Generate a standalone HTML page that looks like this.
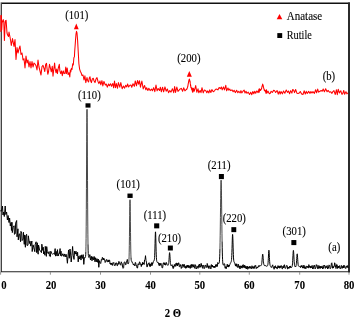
<!DOCTYPE html>
<html><head><meta charset="utf-8"><style>
html,body{margin:0;padding:0;background:#fff;width:357px;height:322px;overflow:hidden}
svg{display:block;will-change:transform}
text{stroke:#000;stroke-width:0.1px}
</style></head><body>
<svg width="357" height="322" viewBox="0 0 357 322"><rect width="357" height="322" fill="#fff"/><path d="M0.6,3.2 H350" fill="none" stroke="#111" stroke-width="1.6"/><path d="M349,2.4 V272.4" fill="none" stroke="#262626" stroke-width="1.95"/><rect x="0" y="3" width="1" height="269" fill="#bbb"/><rect x="1" y="3" width="1" height="269" fill="#444"/><path d="M0.9,271.75 H349.9" fill="none" stroke="#222" stroke-width="1.15"/><path d="M0.90,32.00 0.80,15.50 1.40,15.50 1.70,30.00 2.20,21.00 2.60,22.00 3.20,19.50 3.80,22.00 4.40,40.50 5.30,21.00 6.10,20.30 7.00,33.00 7.60,35.00 8.50,36.50 9.00,32.00 10.00,37.00 10.60,40.50 11.30,45.50 12.50,38.60 14.00,46.50 15.00,39.50 16.00,59.50 17.00,47.60 18.00,53.00 19.00,49.00 20.00,46.00 21.00,54.50 22.00,53.00 22.50,56.00 23.00,60.00 24.00,58.70 25.00,68.00 26.00,56.00 27.00,63.00 28.00,60.00 29.00,67.00 30.00,61.50 31.00,68.00 32.00,61.50 33.00,67.00 34.00,63.00 35.00,64.00 36.00,65.70 37.00,70.00 38.00,60.00 39.00,67.00 40.00,71.00 41.00,75.00 42.00,66.50 43.00,65.30 43.90,68.00 44.80,71.50 45.70,64.30 46.50,63.40 47.10,69.00 47.80,74.30 48.50,71.80 49.50,64.30 50.40,68.00 51.30,71.80 52.30,66.20 53.00,76.20 53.70,70.00 54.60,63.00 55.20,69.00 56.00,72.70 56.70,69.00 57.40,73.60 58.30,68.00 59.30,64.30 59.90,70.90 60.70,73.60 61.60,70.90 62.30,75.70 63.30,70.90 63.90,73.20 64.90,73.60 65.80,67.10 66.40,73.60 67.20,68.00 68.10,74.60 69.00,72.70 69.80,77.00 70.30,70.00 70.80,72.00 71.40,68.40 72.00,69.50 72.70,63.70 73.30,65.00 73.90,57.50 74.40,57.00 74.70,51.30 75.10,46.00 75.50,40.40 76.00,34.00 76.50,31.30 77.00,33.00 77.60,40.40 78.20,51.30 78.90,63.70 79.60,69.10 80.40,71.50 81.20,73.00 82.00,75.50 83.00,75.00 83.50,77.50 84.00,80.00 84.90,75.80 85.80,82.60 87.00,77.60 87.80,81.00 88.60,82.00 89.30,78.00 90.00,76.80 90.70,81.00 91.40,82.60 92.30,79.00 93.30,78.30 94.10,81.00 95.00,82.60 96.00,79.00 97.00,77.60 98.00,81.50 98.90,83.60 100.00,81.00 100.80,84.83 101.95,80.64 102.83,85.93 103.94,81.44 105.34,85.00 106.31,84.09 107.28,87.14 108.56,83.95 109.39,85.75 110.58,83.69 111.49,86.30 112.80,83.48 113.64,87.82 114.51,81.07 115.46,87.74 116.36,83.62 117.50,88.27 118.39,82.54 119.80,87.16 120.81,82.52 122.15,88.73 123.48,85.97 124.61,88.14 125.62,85.35 126.74,86.90 127.59,83.97 128.62,87.02 129.88,85.19 130.91,85.05 131.74,87.20 133.00,83.80 134.31,86.36 135.30,80.95 136.48,85.83 137.51,80.52 138.62,84.22 139.52,80.73 140.47,87.15 141.86,81.00 143.21,88.91 144.56,85.46 145.84,89.78 146.65,87.76 147.87,90.45 148.84,88.34 150.13,90.59 151.47,89.06 152.47,90.79 153.67,87.65 154.82,91.70 155.99,85.00 157.12,90.84 158.14,88.55 159.49,90.56 160.33,87.23 161.35,91.84 162.56,87.21 163.62,91.81 164.97,86.89 166.15,91.18 167.33,89.01 168.57,92.64 169.78,90.50 171.01,92.14 172.39,88.70 173.72,92.69 174.63,86.53 175.53,92.42 176.83,87.02 177.97,91.40 179.34,89.90 180.20,88.96 181.32,88.36 182.58,91.22 183.67,87.81 184.93,90.87 186.36,89.28 186.66,89.55 186.96,88.76 187.08,88.77 187.20,88.11 187.32,87.98 187.44,87.67 187.56,87.08 187.68,86.80 187.80,85.84 187.92,86.18 188.04,84.76 188.16,84.36 188.28,83.35 188.40,83.08 188.52,82.20 188.64,81.79 188.76,80.45 188.88,81.15 189.00,79.85 189.12,79.89 189.24,79.18 189.36,79.89 189.48,79.14 189.60,80.00 189.72,81.11 189.84,80.62 189.96,82.24 190.08,81.39 190.20,82.57 190.32,83.91 190.44,84.19 190.56,85.92 190.68,84.95 190.80,87.19 190.92,86.69 191.04,87.68 191.16,87.73 191.28,88.21 191.40,87.53 191.52,89.14 191.64,88.05 191.76,89.85 191.88,88.70 192.18,88.86 192.48,92.26 192.78,87.97 193.08,91.87 193.38,88.37 194.28,91.18 195.70,85.52 196.79,92.21 198.01,88.85 198.82,92.84 200.10,90.48 201.01,92.65 202.00,87.71 203.24,92.86 204.38,89.96 205.78,90.65 206.80,92.80 207.63,90.90 208.91,92.86 209.71,89.89 210.87,92.52 211.87,89.61 213.26,91.71 214.49,90.82 215.59,89.22 216.86,89.11 217.88,89.89 219.12,87.43 220.33,88.69 221.36,86.99 222.21,89.84 223.46,86.90 224.50,89.85 225.78,85.32 226.65,90.84 227.95,88.03 228.89,90.26 229.75,88.95 230.57,90.63 231.95,89.87 233.15,91.79 234.12,90.27 235.31,92.63 236.62,90.22 237.82,92.80 238.79,91.23 240.14,92.96 240.95,90.64 241.80,92.90 243.04,91.22 244.14,90.09 245.02,93.00 246.01,91.30 246.91,93.30 248.22,92.17 249.55,94.47 250.71,92.23 251.80,94.68 252.85,91.54 253.82,93.80 254.79,91.30 255.70,93.17 256.84,90.88 258.11,92.62 258.97,89.09 259.27,92.28 259.57,88.74 259.87,90.48 260.17,90.12 260.47,90.53 260.59,89.47 260.71,90.07 260.83,89.72 260.95,89.77 261.07,89.38 261.19,89.36 261.31,89.34 261.43,88.56 261.55,88.37 261.67,88.31 261.79,87.40 261.91,87.10 262.03,86.10 262.15,86.20 262.27,86.00 262.39,85.04 262.51,85.28 262.63,84.14 262.75,84.88 262.87,84.57 262.99,85.00 263.11,85.49 263.23,85.66 263.35,86.98 263.47,86.75 263.59,87.91 263.71,88.11 263.83,88.74 263.95,88.68 264.07,89.51 264.19,89.61 264.31,90.33 264.43,89.99 264.55,90.65 264.67,89.96 264.79,90.93 264.91,90.13 265.03,91.29 265.15,90.84 265.27,91.35 265.57,90.72 265.87,93.17 266.17,93.10 266.47,89.66 266.77,93.14 268.04,91.14 269.34,93.68 270.29,93.26 271.11,91.31 272.35,92.43 273.61,90.38 274.45,90.51 275.65,92.52 277.05,90.46 278.25,94.17 279.22,91.31 280.19,93.95 281.06,91.49 282.38,93.83 283.53,90.99 284.84,93.32 286.26,89.92 287.45,92.36 288.47,91.02 289.64,93.69 290.69,90.65 291.90,93.13 292.73,89.43 293.60,90.11 294.53,92.60 295.61,89.51 297.02,93.33 298.03,93.54 299.26,92.94 300.28,91.47 301.61,94.04 302.96,94.52 304.23,90.79 305.27,93.98 306.28,91.36 307.27,93.44 308.63,91.37 310.05,93.35 310.92,91.52 311.90,93.07 312.99,91.60 314.38,93.40 315.63,89.70 316.55,92.82 317.70,89.03 318.55,92.14 319.94,91.26 321.21,90.48 322.22,91.29 323.21,89.01 324.39,91.83 325.66,88.81 327.07,91.80 328.10,90.37 329.48,92.23 330.79,91.73 331.95,93.39 332.81,91.66 333.93,90.63 335.27,94.50 336.42,89.74 337.31,94.72 338.20,89.28 339.39,92.88 340.77,90.72 341.80,94.12 342.58,94.02 343.75,90.43 344.66,94.33 345.97,91.63 346.91,93.89 347.93,92.73" fill="none" stroke="#ff0000" stroke-width="1.05" stroke-linejoin="round"/><path d="M0.30,210.80 1.60,211.00 2.50,206.00 3.00,215.00 3.50,212.00 4.30,216.50 5.20,206.00 5.80,214.50 6.60,212.00 7.40,220.00 8.10,215.50 9.00,222.50 9.60,218.00 10.30,225.95 11.11,222.49 11.46,230.46 11.97,222.27 12.32,232.57 13.08,227.50 14.10,225.74 14.45,234.32 15.28,233.65 15.63,223.10 16.67,220.50 17.02,236.80 17.95,228.80 18.30,239.90 18.99,234.39 19.57,233.86 20.56,241.69 20.91,231.35 21.71,232.90 22.06,240.58 23.08,239.09 23.43,232.26 24.27,244.33 24.62,234.94 25.39,247.28 25.74,235.87 26.63,234.28 26.98,245.43 27.97,245.20 28.32,235.80 29.44,243.47 30.01,241.14 30.75,246.14 31.85,241.04 32.20,251.54 33.08,244.88 33.77,247.70 34.78,251.65 35.13,244.70 36.14,241.77 36.49,252.50 37.32,242.77 37.67,252.15 38.19,254.19 38.54,245.00 39.59,249.96 40.49,251.12 41.48,252.67 41.83,244.20 42.75,250.43 43.26,247.23 43.61,254.01 44.23,251.59 44.93,255.25 45.28,246.37 46.36,256.37 46.71,246.60 47.34,251.74 48.28,253.74 49.08,251.55 49.43,255.95 50.44,256.59 50.79,251.21 51.74,253.38 52.54,254.27 53.37,253.49 54.48,254.37 55.15,248.61 55.50,256.14 56.14,251.30 57.06,256.07 57.41,249.62 58.21,256.04 58.87,253.35 59.48,253.55 60.08,248.59 60.43,255.57 61.02,251.16 61.37,256.05 62.00,255.71 62.80,253.73 63.60,256.32 64.40,253.95 65.20,257.01 66.00,254.18 66.80,257.39 67.40,263.27 68.00,256.18 68.60,249.95 69.30,258.25 70.00,249.00 70.60,253.99 71.20,262.01 71.90,255.26 72.60,246.48 73.20,255.17 74.00,259.42 74.60,251.11 75.30,254.10 76.00,251.19 76.35,254.06 76.70,253.25 77.00,255.99 77.60,252.29 78.20,261.89 78.80,256.15 79.50,259.06 80.20,255.47 81.00,260.09 81.70,254.84 82.50,258.40 83.20,254.62 83.80,264.36 84.40,257.55 84.52,257.73 84.64,257.72 84.76,257.89 84.88,257.97 85.00,257.84 85.12,257.81 85.24,257.50 85.36,257.36 85.48,256.93 85.60,256.25 85.72,254.71 85.84,251.83 M88.00,244.22 88.12,250.16 88.24,253.62 88.36,255.50 88.48,256.46 88.60,256.97 88.72,257.29 88.84,257.46 88.96,257.30 89.08,257.42 89.20,256.96 89.32,256.59 89.44,256.48 89.56,256.24 89.80,254.61 90.50,260.02 91.30,256.23 92.00,260.81 92.80,256.73 93.50,259.82 94.20,256.51 95.00,261.81 95.60,257.74 96.30,261.87 97.00,258.65 97.60,262.31 98.30,259.04 98.80,267.29 99.40,260.63 100.00,262.73 100.70,263.51 101.40,259.54 101.89,260.10 102.38,257.37 102.80,258.77 103.29,260.01 103.78,257.98 104.20,259.99 104.69,259.58 105.18,262.48 105.60,261.83 106.30,259.73 106.79,259.48 107.28,261.96 107.70,261.75 108.19,259.88 108.68,261.95 109.10,260.32 109.59,260.02 110.08,263.88 110.50,263.00 110.99,264.82 111.48,262.97 111.90,264.63 112.39,265.43 112.88,262.73 113.30,263.23 113.79,262.44 114.28,265.59 114.70,265.45 115.19,265.59 115.68,263.05 116.10,263.11 116.59,262.89 117.08,265.74 117.50,265.68 117.99,263.28 118.48,264.25 118.90,261.36 119.39,263.25 119.88,262.84 120.30,264.74 120.79,265.24 121.28,261.82 121.70,262.86 122.19,263.75 122.68,267.39 123.10,268.34 123.59,267.78 124.08,262.68 124.50,261.90 124.99,262.18 125.48,264.65 125.90,264.81 126.39,261.65 126.88,262.04 127.30,259.42 127.40,261.15 127.52,261.72 127.64,262.05 127.76,262.86 127.88,263.55 128.00,264.01 128.12,264.00 128.24,263.67 128.36,263.63 128.48,263.15 128.60,262.98 128.72,262.46 128.84,261.51 M131.00,257.39 131.12,259.25 131.24,260.21 131.36,260.66 131.48,260.83 131.60,261.28 131.72,261.23 131.84,261.51 131.96,261.99 132.08,261.97 132.20,262.38 132.32,262.26 132.44,262.80 132.56,262.74 132.90,263.52 133.39,264.94 133.88,263.96 134.30,265.36 134.79,265.97 135.28,262.35 135.70,262.71 136.19,266.02 136.68,265.59 137.10,268.09 137.59,267.95 138.08,263.64 138.50,264.01 138.99,264.85 139.48,261.83 139.90,262.14 140.39,264.39 140.88,264.26 141.30,266.57 141.79,263.87 142.28,265.09 142.70,262.24 143.19,264.06 143.68,262.92 144.10,264.56 144.59,259.81 145.08,259.37 145.50,255.68 145.99,260.61 146.48,262.11 146.90,266.92 147.39,266.71 147.88,263.91 148.30,264.17 149.10,262.70 149.45,265.69 149.80,264.15 150.10,266.81 150.45,264.37 150.80,266.02 151.10,263.69 151.48,262.67 151.87,265.72 152.20,265.36 152.59,262.98 152.90,262.66 152.97,263.33 153.02,262.49 153.14,262.19 153.26,261.77 153.38,261.50 153.50,261.48 153.62,261.42 153.74,261.13 153.86,260.83 153.98,260.95 154.10,260.58 154.22,260.24 154.34,259.71 154.46,258.83 154.58,257.42 154.70,255.23 154.82,252.12 154.94,248.08 155.06,243.39 155.18,238.63 155.30,234.62 155.42,232.17 155.54,231.84 155.66,233.71 155.78,237.37 155.90,242.07 156.02,246.95 156.14,251.34 156.26,254.86 156.38,257.43 156.50,259.17 156.62,260.29 156.74,261.01 156.86,261.48 156.98,261.83 157.10,262.02 157.22,262.14 157.34,262.37 157.46,262.21 157.58,262.37 157.70,262.47 157.82,262.62 157.94,262.30 158.06,262.29 159.20,265.62 159.59,263.29 159.97,265.58 160.30,263.47 160.65,264.90 161.00,263.39 161.30,264.56 161.69,264.94 162.07,267.90 162.40,267.99 162.75,267.26 163.10,263.46 163.40,263.76 163.78,262.61 164.17,264.33 164.50,262.87 164.85,264.96 165.20,263.52 165.50,265.10 165.85,265.15 166.20,262.36 166.50,262.95 167.00,264.18 167.12,264.41 167.24,264.60 167.36,264.77 167.48,265.03 167.60,265.24 167.72,265.34 167.84,265.39 167.96,265.25 168.08,265.12 168.20,265.17 168.32,265.02 168.44,264.74 168.56,264.29 168.68,263.57 168.80,262.51 168.92,261.07 169.04,259.29 169.16,257.29 169.28,255.32 169.40,253.70 169.52,252.73 169.64,252.60 169.76,253.36 169.88,254.85 170.00,256.78 170.12,258.85 170.24,260.77 170.36,262.39 170.48,263.62 170.60,264.50 170.72,265.08 170.84,265.45 170.96,265.69 171.08,265.85 171.20,265.90 171.32,265.76 171.44,265.41 171.56,265.47 171.68,265.21 171.80,265.09 171.92,264.86 172.04,264.65 172.16,265.07 173.20,268.58 173.59,266.21 173.97,267.20 174.30,264.70 174.65,265.86 175.00,264.40 175.30,265.70 175.65,266.36 176.00,263.00 176.30,262.98 176.69,265.29 177.07,263.43 177.40,266.00 177.78,263.51 178.17,264.55 178.50,262.86 178.85,262.83 179.20,266.38 179.50,266.71 179.85,267.10 180.20,264.53 180.50,265.74 180.88,264.87 181.27,268.47 181.60,267.56 181.98,267.97 182.37,264.47 182.70,264.48 183.05,266.22 183.40,264.62 183.70,266.37 184.05,267.35 184.40,264.44 184.70,265.46 185.09,267.81 185.47,266.48 185.80,268.40 186.19,266.35 186.57,267.74 186.90,265.33 187.25,267.23 187.60,265.28 187.90,267.22 188.25,265.61 188.60,267.57 188.90,265.33 189.28,267.42 189.67,266.24 190.00,268.41 190.38,268.22 190.77,264.85 191.10,265.47 191.45,264.46 191.80,267.70 192.10,266.38 192.45,264.73 192.80,266.39 193.10,264.49 193.48,266.96 193.87,265.47 194.20,267.43 194.59,268.27 194.97,264.57 195.30,265.33 195.65,265.08 196.00,268.81 196.30,268.20 196.65,268.79 197.00,266.13 197.30,266.30 198.10,268.33 198.45,265.48 198.80,267.04 199.10,264.48 199.48,264.01 199.87,267.48 200.20,266.51 200.59,267.05 200.97,263.39 201.30,263.57 201.65,266.25 202.00,265.17 202.30,267.49 202.65,268.33 203.00,265.24 203.30,265.46 203.69,265.36 204.07,268.68 204.40,268.32 204.78,268.11 205.17,265.06 205.50,265.38 205.85,265.18 206.20,267.39 206.50,267.26 206.85,267.36 207.20,263.48 207.50,264.25 207.88,267.33 208.27,265.81 208.60,268.23 208.98,268.65 209.37,265.96 209.70,266.26 210.05,265.69 210.40,268.55 210.70,268.14 211.05,268.65 211.40,264.57 211.70,265.12 212.09,266.92 212.47,265.10 212.80,267.13 213.19,266.07 213.57,267.37 213.90,266.26 214.25,267.79 214.60,266.17 214.90,267.20 215.25,267.45 215.60,264.82 215.90,265.32 216.28,264.37 216.67,266.73 217.00,266.31 217.38,266.35 217.77,262.53 218.10,263.12 218.50,263.79 218.62,263.78 218.74,263.55 218.86,263.51 218.98,263.27 219.10,263.19 219.22,262.86 219.34,262.14 219.46,261.11 219.58,259.18 219.70,256.83 219.82,253.39 219.94,248.76 M222.10,241.28 222.22,247.80 222.34,252.96 222.46,256.87 222.58,259.72 222.70,261.79 222.82,262.95 222.94,264.12 223.06,264.50 223.18,264.81 223.30,265.05 223.42,265.19 223.54,265.20 223.66,264.96 224.30,263.60 224.69,264.12 225.07,268.31 225.40,268.05 225.78,266.59 226.17,268.74 226.50,266.97 226.85,267.04 227.20,264.17 227.50,264.76 227.85,266.95 228.20,264.90 228.50,267.10 228.88,265.19 229.27,266.34 229.60,264.83 230.00,264.25 230.12,263.79 230.24,263.79 230.36,263.22 230.48,263.05 230.60,262.74 230.72,262.59 230.84,262.40 230.96,262.23 231.08,262.18 231.20,261.73 231.32,261.26 231.44,260.56 231.56,259.46 231.68,257.82 231.80,255.47 231.92,252.34 232.04,248.51 232.16,244.26 232.28,240.12 232.40,236.72 232.52,234.66 232.64,234.36 232.76,235.86 232.88,238.88 233.00,242.85 233.12,247.12 233.24,251.14 233.36,254.53 233.48,257.14 233.60,259.00 233.72,260.26 233.84,261.08 233.96,261.61 234.08,261.97 234.20,262.15 234.32,262.54 234.44,262.47 234.56,262.87 234.68,263.36 234.80,263.63 234.92,263.80 235.04,264.46 235.16,264.73 235.50,265.88 235.88,263.74 236.27,266.36 236.60,264.14 236.98,263.83 237.37,267.30 237.70,267.12 238.05,267.40 238.40,264.30 238.70,265.11 239.05,267.52 239.40,265.97 239.70,268.04 240.09,269.03 240.47,265.84 240.80,266.12 241.19,267.66 241.57,265.87 241.90,268.10 242.25,268.04 242.60,265.09 242.90,265.02 243.25,264.66 243.60,267.28 243.90,267.09 244.28,267.83 244.67,265.13 245.00,266.12 245.40,268.22 245.89,266.16 246.38,268.90 246.80,266.89 247.29,266.03 247.78,269.32 248.20,268.70 248.69,266.79 249.18,268.13 249.60,266.34 250.09,268.43 250.58,266.60 251.00,268.04 251.49,268.75 251.98,265.74 252.40,266.77 252.89,268.41 253.38,266.59 253.80,268.44 254.29,268.41 254.78,265.71 255.20,266.37 255.69,265.39 256.18,268.64 256.60,268.03 257.09,267.01 257.58,268.09 258.00,267.10 258.49,265.67 258.98,266.81 259.40,265.61 260.10,265.83 260.22,265.72 260.34,265.80 260.46,265.71 260.58,265.57 260.70,265.55 260.82,265.48 260.94,265.49 261.06,265.46 261.18,265.52 261.30,265.32 261.42,265.08 261.54,264.70 261.66,264.14 261.78,263.33 261.90,262.25 262.02,260.90 262.14,259.35 262.26,257.71 262.38,256.18 262.50,254.96 262.62,254.24 262.74,254.12 262.86,254.64 262.98,255.70 263.10,257.13 263.22,258.74 263.34,260.33 263.46,261.74 263.58,262.90 263.70,263.78 263.82,264.41 263.94,264.83 264.06,265.09 264.18,265.25 264.30,265.17 264.42,265.55 264.54,265.35 264.66,265.48 264.78,265.49 264.90,265.64 265.02,265.54 265.14,265.76 265.26,265.53 266.30,266.24 266.42,266.25 266.54,266.20 266.66,266.21 266.78,266.15 266.90,266.03 267.02,266.11 267.14,265.84 267.26,265.95 267.38,265.86 267.50,265.76 267.62,265.56 267.74,265.23 267.86,264.67 267.98,263.79 268.10,262.49 268.22,260.72 268.34,258.52 268.46,256.06 268.58,253.64 268.70,251.64 268.82,250.42 268.94,250.21 269.06,251.07 269.18,252.80 269.30,255.08 269.42,257.52 269.54,259.78 269.66,261.66 269.78,263.07 269.90,264.03 270.02,264.85 270.14,265.40 270.26,265.80 270.38,266.10 270.50,266.24 270.62,266.49 270.74,266.81 270.86,266.93 270.98,267.09 271.10,267.19 271.22,267.58 271.34,267.46 271.46,267.45 272.70,264.82 273.19,267.44 273.68,266.91 274.10,269.27 274.59,266.44 275.08,267.83 275.50,265.71 275.99,268.05 276.48,267.17 276.90,268.77 277.39,268.75 277.88,265.64 278.30,265.84 278.79,267.92 279.28,266.20 279.70,268.24 280.19,265.74 280.68,267.60 281.10,265.84 281.59,265.76 282.08,268.84 282.50,268.84 282.99,266.16 283.48,268.00 283.90,265.30 284.39,264.73 284.88,268.20 285.30,268.29 285.79,268.31 286.28,265.46 286.70,265.81 287.19,265.68 287.68,269.01 288.10,268.66 288.59,267.07 289.08,268.37 289.50,266.28 289.99,267.76 290.48,265.94 290.80,267.57 290.92,267.59 291.04,267.37 291.16,267.41 291.28,267.60 291.40,267.21 291.52,267.39 291.64,267.22 291.76,267.19 291.88,266.95 292.00,266.77 292.12,266.41 292.24,265.85 292.36,265.02 292.48,263.84 292.60,262.26 292.72,260.29 292.84,258.02 292.96,255.64 293.08,253.41 293.20,251.63 293.32,250.56 293.44,250.38 293.56,251.12 293.68,252.64 293.80,254.71 293.92,257.03 294.04,259.31 294.16,261.35 294.28,263.01 294.40,264.28 294.52,265.17 294.60,265.69 294.64,265.75 294.72,266.09 294.76,266.12 294.84,266.24 294.88,266.33 294.96,266.27 295.00,266.39 295.08,266.57 295.12,266.67 295.20,266.56 295.24,266.49 295.32,266.69 295.36,266.40 295.44,266.41 295.48,266.48 295.56,266.59 295.60,266.59 295.68,266.27 295.72,266.50 295.80,266.27 295.84,266.30 295.92,266.10 295.96,266.18 296.04,265.82 296.16,265.35 296.28,264.63 296.40,263.58 296.52,262.15 296.64,260.40 296.76,258.45 296.88,256.53 297.00,254.95 297.12,253.99 297.24,253.84 297.36,254.52 297.48,255.90 297.60,257.72 297.72,259.66 297.84,261.48 297.96,263.00 298.08,264.16 298.20,264.97 298.32,265.49 298.44,265.81 298.56,266.00 298.68,266.11 298.80,266.27 298.92,266.07 299.04,266.12 299.16,266.17 299.28,266.31 299.40,266.50 299.52,266.59 299.64,266.69 299.76,266.78 300.50,267.60 300.92,265.77 301.34,267.10 301.70,265.48 302.15,265.43 302.61,268.01 303.00,268.08 303.42,268.03 303.84,265.08 304.20,265.94 304.65,268.46 305.11,266.73 305.50,268.34 305.92,268.90 306.34,265.91 306.70,266.28 307.15,267.59 307.61,266.26 308.00,267.79 308.42,267.91 308.84,264.61 309.20,265.55 309.65,267.40 310.11,265.96 310.50,268.10 310.92,266.42 311.34,267.77 311.70,266.11 312.15,265.40 312.61,268.98 313.00,268.35 313.42,268.54 313.84,265.55 314.20,266.43 314.65,265.31 315.11,268.86 315.50,267.79 315.92,267.82 316.34,264.63 316.70,265.55 317.15,265.18 317.61,268.72 318.00,268.11 318.42,268.44 318.84,265.44 319.20,266.11 319.65,268.30 320.11,266.04 320.50,268.34 320.92,266.59 321.34,268.04 321.70,266.40 322.15,265.85 322.61,268.95 323.00,267.90 323.42,268.31 323.84,265.23 324.20,265.81 324.65,265.10 325.11,268.36 325.50,268.26 325.92,266.21 326.34,267.64 326.70,266.18 327.15,265.51 327.61,268.99 328.00,267.82 328.42,268.23 328.84,265.20 329.20,265.52 329.65,265.23 330.11,268.74 330.50,268.41 330.95,267.64 331.41,263.43 331.80,262.81 332.60,268.25 333.02,266.41 333.44,268.05 333.80,266.30 334.22,266.31 334.64,262.79 335.00,263.65 335.35,266.94 335.70,265.82 336.00,268.59 336.70,264.39 337.15,264.78 337.61,268.52 338.00,267.95 338.42,266.00 338.84,267.98 339.20,265.99 339.65,265.65 340.11,268.91 340.50,268.27 340.92,268.24 341.34,265.43 341.70,266.18 342.15,268.41 342.61,266.48 343.00,267.97 343.42,265.44 343.84,267.88 344.20,265.57 344.65,265.63 345.11,268.23 345.50,268.16 345.92,268.50 346.34,265.94 346.70,266.13 347.15,267.36 347.61,265.57 348.00,267.66 348.60,267.01" fill="none" stroke="#000" stroke-width="1.0" stroke-linejoin="miter" stroke-miterlimit="3"/><path d="M85.84,251.83 85.96,246.80 86.08,238.61 86.20,226.35 86.32,209.51 86.44,188.49 86.56,164.96 86.68,141.79 86.80,122.66 86.92,111.07 87.04,109.32 87.16,117.77 87.28,134.71 87.40,156.92 87.52,180.68 87.64,202.75 87.76,221.06 87.88,234.80 88.00,244.22 M128.84,261.51 128.96,259.80 129.08,256.88 129.20,252.23 129.32,245.45 129.44,236.53 129.56,226.07 129.68,215.38 129.80,206.30 129.92,200.66 130.04,199.73 130.16,203.70 130.28,211.63 130.40,221.80 130.52,232.33 130.64,241.67 130.76,249.00 130.88,254.14 131.00,257.39 M219.94,248.76 220.06,242.79 220.18,235.46 220.30,226.91 220.42,217.49 220.54,207.74 220.66,198.39 220.78,190.25 220.90,184.11 221.02,180.61 221.14,180.13 221.26,182.75 221.38,188.16 221.50,195.81 221.62,204.95 221.74,214.74 221.86,224.44 221.98,233.42 222.10,241.28" fill="none" stroke="#333" stroke-width="0.9" stroke-linejoin="round"/><path d="M0.6,272 V274.7" stroke="#888" stroke-width="0.9"/><path d="M50.4,272 V274.7" stroke="#888" stroke-width="0.9"/><path d="M100.5,272 V274.7" stroke="#888" stroke-width="0.9"/><path d="M150.5,272 V274.7" stroke="#888" stroke-width="0.9"/><path d="M199.8,272 V274.7" stroke="#888" stroke-width="0.9"/><path d="M249.3,272 V274.7" stroke="#888" stroke-width="0.9"/><path d="M299.7,272 V274.7" stroke="#888" stroke-width="0.9"/><path d="M349,272 V274.7" stroke="#888" stroke-width="0.9"/><text transform="translate(3.9,288.7) scale(0.95,1.05)" x="0" y="0" text-anchor="middle" style="font-family:'Liberation Serif',serif;font-weight:bold;font-size:11.3px;stroke-width:0.05px">0</text><text transform="translate(51.0,288.7) scale(0.95,1.05)" x="0" y="0" text-anchor="middle" style="font-family:'Liberation Serif',serif;font-weight:bold;font-size:11.3px;stroke-width:0.05px">20</text><text transform="translate(100.5,288.7) scale(0.95,1.05)" x="0" y="0" text-anchor="middle" style="font-family:'Liberation Serif',serif;font-weight:bold;font-size:11.3px;stroke-width:0.05px">30</text><text transform="translate(150.5,288.7) scale(0.95,1.05)" x="0" y="0" text-anchor="middle" style="font-family:'Liberation Serif',serif;font-weight:bold;font-size:11.3px;stroke-width:0.05px">40</text><text transform="translate(199.8,288.7) scale(0.95,1.05)" x="0" y="0" text-anchor="middle" style="font-family:'Liberation Serif',serif;font-weight:bold;font-size:11.3px;stroke-width:0.05px">50</text><text transform="translate(249.3,288.7) scale(0.95,1.05)" x="0" y="0" text-anchor="middle" style="font-family:'Liberation Serif',serif;font-weight:bold;font-size:11.3px;stroke-width:0.05px">60</text><text transform="translate(299.7,288.7) scale(0.95,1.05)" x="0" y="0" text-anchor="middle" style="font-family:'Liberation Serif',serif;font-weight:bold;font-size:11.3px;stroke-width:0.05px">70</text><text transform="translate(349.0,288.7) scale(0.95,1.05)" x="0" y="0" text-anchor="middle" style="font-family:'Liberation Serif',serif;font-weight:bold;font-size:11.3px;stroke-width:0.05px">80</text><text transform="translate(173.0,316.7) scale(0.95,1.05)" x="0" y="0" text-anchor="middle" style="font-family:'Liberation Serif',serif;font-weight:bold;font-size:11.3px;stroke-width:0.05px">2 &#920;</text><path d="M276.7,19.3 L279.5,13.9 L282.3,19.3 Z" fill="#ff0000"/><text transform="translate(286.8,19.8) scale(1.0,1.1)" x="0" y="0" style="font-family:'Liberation Serif',serif;font-size:11px">Anatase</text><rect x="277.3" y="33.1" width="4.9" height="4.9" fill="#000"/><text transform="translate(286.8,38.5) scale(1.0,1.1)" x="0" y="0" style="font-family:'Liberation Serif',serif;font-size:11px" textLength="25" lengthAdjust="spacingAndGlyphs">Rutile</text><text transform="translate(76.8,18.9) scale(0.975,1.07)" x="0" y="0" text-anchor="middle" style="font-family:'Liberation Serif',serif;font-size:11px">(101)</text><path d="M73.9,29.2 L76.3,23.4 L78.7,29.2 Z" fill="#ff0000"/><text transform="translate(188.9,62.2) scale(0.975,1.07)" x="0" y="0" text-anchor="middle" style="font-family:'Liberation Serif',serif;font-size:11px">(200)</text><path d="M186.8,76.8 L189.3,71.1 L191.8,76.8 Z" fill="#ff0000"/><text transform="translate(328.9,79.6) scale(0.975,1.07)" x="0" y="0" text-anchor="middle" style="font-family:'Liberation Serif',serif;font-size:11px">(b)</text><text transform="translate(334.3,250.9) scale(0.975,1.07)" x="0" y="0" text-anchor="middle" style="font-family:'Liberation Serif',serif;font-size:11px">(a)</text><text transform="translate(89.3,98.6) scale(0.975,1.07)" x="0" y="0" text-anchor="middle" style="font-family:'Liberation Serif',serif;font-size:11px">(110)</text><rect x="85.5" y="103.3" width="5" height="4.3" fill="#000"/><text transform="translate(128.2,188.4) scale(0.975,1.07)" x="0" y="0" text-anchor="middle" style="font-family:'Liberation Serif',serif;font-size:11px">(101)</text><rect x="127.45" y="193.55" width="5.2" height="4.4" fill="#000"/><text transform="translate(154.9,218.6) scale(0.975,1.07)" x="0" y="0" text-anchor="middle" style="font-family:'Liberation Serif',serif;font-size:11px">(111)</text><rect x="154.15" y="223.35" width="5.1" height="5.0" fill="#000"/><text transform="translate(169.5,241.6) scale(0.975,1.07)" x="0" y="0" text-anchor="middle" style="font-family:'Liberation Serif',serif;font-size:11px">(210)</text><rect x="167.85" y="245.55" width="5.0" height="4.95" fill="#000"/><text transform="translate(219.1,169.2) scale(0.975,1.07)" x="0" y="0" text-anchor="middle" style="font-family:'Liberation Serif',serif;font-size:11px">(211)</text><rect x="218.9" y="174.0" width="5" height="5.1" fill="#000"/><text transform="translate(234.3,221.7) scale(0.975,1.07)" x="0" y="0" text-anchor="middle" style="font-family:'Liberation Serif',serif;font-size:11px">(220)</text><rect x="231.35" y="227.15" width="4.9" height="5.0" fill="#000"/><text transform="translate(294.2,235.3) scale(0.975,1.07)" x="0" y="0" text-anchor="middle" style="font-family:'Liberation Serif',serif;font-size:11px">(301)</text><rect x="291.35" y="240.05" width="5" height="5.05" fill="#000"/></svg>
</body></html>
